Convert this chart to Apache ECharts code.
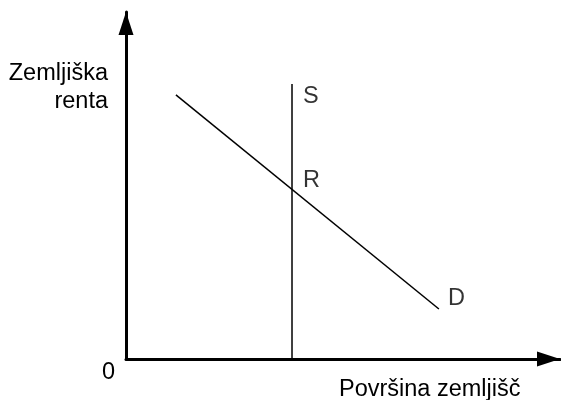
<!DOCTYPE html>
<html>
<head>
<meta charset="utf-8">
<script src="https://cdn.jsdelivr.net/npm/echarts@6/dist/echarts.min.js"></script>
<style>
  html, body { margin: 0; padding: 0; background: #fff; }
  #chart { width: 561px; height: 400px; }
</style>
</head>
<body>
<div id="chart"></div>
<script>
// supply (vertical) and demand lines, both axes run 0..100
var supplyLine = [[38.25, 0], [38.25, 79.25]];
var demandLine = [[11.5, 76.1], [72.1, 14.4]];
var pointLabels = [
  { name: 'S', value: [38.25, 79.25] },
  { name: 'R', value: [38.25, 48.9] },
  { name: 'D', value: [72.1, 14.4] }
];
var yTitle = ['Zemljiška', 'renta'];
var xTitle = 'Površina zemljišč';
var originLabel = '0';

var font = 'Liberation Sans, Arial, sans-serif';
var fontSize = 23.5;

var chart = echarts.init(document.getElementById('chart'));

var labelOffsets = { S: [11, 12.5], R: [11, -8.5], D: [9, -11] };

function txt(text, x, y, align) {
  return {
    type: 'text', x: x, y: y,
    style: { text: text, font: fontSize + 'px ' + font, fill: '#000', textAlign: align, textVerticalAlign: 'middle' }
  };
}

// triangle is centred on the axis end, pull it back so the tip sits at the end
var axisLine = {
  show: true, onZero: false,
  symbol: ['none', 'triangle'], symbolSize: [15, 23], symbolOffset: [0, -11.5],
  lineStyle: { color: '#000', width: 3 }
};

chart.setOption({
  animation: false,
  grid: { left: 126, right: 1, top: 12, bottom: 41 },
  xAxis: {
    type: 'value', min: 0, max: 100,
    axisLine: axisLine,
    axisTick: { show: false }, axisLabel: { show: false }, splitLine: { show: false }
  },
  yAxis: {
    type: 'value', min: 0, max: 100,
    axisLine: axisLine,
    axisTick: { show: false }, axisLabel: { show: false }, splitLine: { show: false }
  },
  graphic: [
    txt(yTitle[0], 108, 74, 'right'),
    txt(yTitle[1], 108, 102, 'right'),
    txt(xTitle, 339, 390, 'left'),
    txt(originLabel, 108.5, 373, 'center')
  ],
  series: [
    {
      type: 'line', data: supplyLine, symbol: 'none',
      lineStyle: { color: '#000', width: 1.5 }
    },
    {
      type: 'line', data: demandLine, symbol: 'none',
      lineStyle: { color: '#000', width: 1.5 }
    },
    {
      type: 'scatter', symbolSize: 0,
      data: pointLabels.map(function (p) {
        return { name: p.name, value: p.value, label: { offset: labelOffsets[p.name] } };
      }),
      label: {
        show: true, position: 'right', distance: 0,
        formatter: '{b}', color: '#000', fontSize: fontSize, fontFamily: font
      }
    }
  ]
});
</script>
</body>
</html>
